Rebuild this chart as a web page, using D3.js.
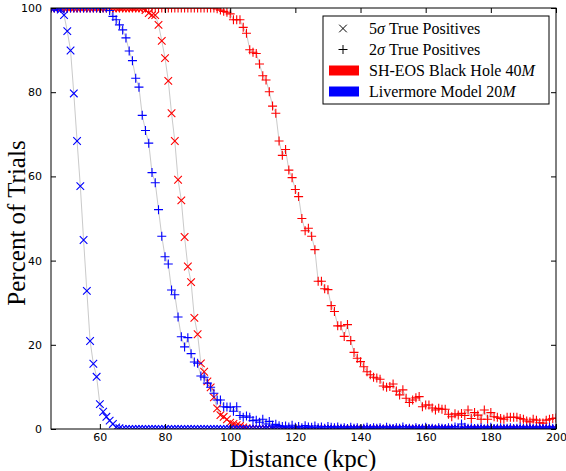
<!DOCTYPE html>
<html>
<head>
<meta charset="utf-8">
<script src="https://cdn.jsdelivr.net/npm/d3@7"></script>
<style>
  body { margin: 0; background: #fff; }
</style>
</head>
<body>
<div id="chart"></div>
<script>
// distances sampled every 1 kpc
const distances = d3.range(45, 201);

// SH-EOS Black Hole 40M
const redFive = [
  100,100,100,100,100,100,100,100,100,100,
  100,100,100,100,100,100,100,100,100,100,
  100,100,100,100,100,100,100,100,100,99.5,
  98.8,98.3,98.3,96.0,92.2,88.1,82.7,75.0,68.4,59.2,
  54.3,45.6,38.6,34.9,26.4,22.5,15.6,13.6,11.3,9.9,
  7.5,4.9,3.3,2.9,2.3,1.5,1.2,0.9,0.7,0.4,
  0.2,0,0,0,0,0,0,0,0,0,
  0,0,0,0,0,0,0,0,0,0,
  0,0,0,0,0,0,0,0,0,0,
  0,0,0,0,0,0,0,0,0,0,
  0,0,0,0,0,0,0,0,0,0,
  0,0,0,0,0,0,0,0,0,0,
  0,0,0,0,0,0,0,0,0,0,
  0,0,0,0,0,0,0,0,0,0,
  0,0,0,0,0,0,0,0,0,0,
  0,0,0,0,0,0
];
const redTwo = [
  100,100,100,100,100,100,100,100,100,100,
  100,100,100,100,100,100,100,100,100,100,
  100,100,100,100,100,100,100,100,100,100,
  100,100,100,100,100,100,100,100,100,100,
  100,100,100,100,100,100,100,100,100,100,
  100,99.8,99.5,99.2,99.0,98.6,97.2,97.2,97.2,95.4,
  94.0,90.1,89.5,89.2,86.7,83.9,82.9,80.1,76.7,75.0,
  68.4,65.0,66.4,61.5,59.7,56.9,55.2,50.0,47.1,47.7,
  45.8,42.6,35.1,35.1,33.3,33.1,29.3,27.9,24.5,24.5,
  22.0,24.8,21.0,18.2,16.8,16.0,14.8,13.6,12.9,12.3,
  12.1,11.8,10.2,9.9,10.1,10.7,9.0,8.1,9.3,7.3,
  6.3,6.9,7.4,7.7,5.3,5.7,5.7,5.0,4.5,4.9,
  4.7,4.7,3.5,2.9,3.6,3.3,3.7,3.2,4.5,2.5,
  3.9,3.3,2.3,4.5,2.3,3.9,2.9,2.8,2.5,2.3,
  2.8,2.8,2.8,2.8,2.5,2.3,1.9,1.7,2.3,2.1,
  1.5,1.4,2.1,2.3,2.5,2.6
];

// Livermore Model 20M
const blueFive = [
  100,100,100,99.6,98.3,94.5,89.9,79.7,68.4,57.7,
  44.9,32.8,20.9,15.5,12.4,5.9,4.1,2.9,2.0,1.2,
  0.4,0.2,0,0,0,0,0,0,0,0,
  0,0,0,0,0,0,0,0,0,0,
  0,0,0,0,0,0,0,0,0,0,
  0,0,0,0,0,0,0,0,0,0,
  0,0,0,0,0,0,0,0,0,0,
  0,0,0,0,0,0,0,0,0,0,
  0,0,0,0,0,0,0,0,0,0,
  0,0,0,0,0,0,0,0,0,0,
  0,0,0,0,0,0,0,0,0,0,
  0,0,0,0,0,0,0,0,0,0,
  0,0,0,0,0,0,0,0,0,0,
  0,0,0,0,0,0,0,0,0,0,
  0,0,0,0,0,0,0,0,0,0,
  0,0,0,0,0,0
];
const blueTwo = [
  100,100,100,100,100,100,100,100,100,100,
  100,100,100,100,100,100,100,100,99.4,98.0,
  97.2,96.0,94.8,92.9,89.8,87.5,83.3,81.2,74.5,70.9,
  67.9,60.9,58.5,52.1,45.8,40.9,39.2,33.0,31.9,26.6,
  21.9,19.5,21.7,17.9,15.9,15.6,12.6,12.3,10.9,9.9,
  8.5,6.9,6.9,5.3,5.2,5.2,4.2,5.3,3.2,2.8,
  3.1,2.8,2.0,2.1,1.6,2.3,1.2,1.8,0.9,1.1,
  0.8,0.6,0.7,0.5,0.9,0.4,0.6,0.3,0.8,0.5,
  0.4,0.7,0.3,0.5,0.2,0.6,0.4,0.3,0.5,0.2,
  0.3,0.1,0.4,0.2,0.3,0,0.2,0.4,0.1,0.3,
  0.2,0.3,0,0.4,0.2,0.1,0.3,0.2,0.5,0.1,
  0.2,0,0.3,0.1,0.2,0.4,0.1,0.2,0,0.3,
  0.2,0.1,0.3,0.2,0.5,0.1,1.2,0.4,0.2,0.3,
  0.1,0.2,0.3,0,0.2,0.4,0.1,0.2,0.3,0.1,
  0.2,0.3,0.1,0.2,0.4,0.1,0.2,0.3,0.1,0.2,
  0.3,0.1,0.2,0.4,0.2,0.1
];

const xTicks = [60, 80, 100, 120, 140, 160, 180, 200];
const yTicks = [0, 20, 40, 60, 80, 100];

const series = [
  { values: redFive, color: "#ff0000", marker: "x" },
  { values: redTwo, color: "#ff0000", marker: "+" },
  { values: blueFive, color: "#0000ff", marker: "x" },
  { values: blueTwo, color: "#0000ff", marker: "+" }
];

const width = 566, height = 471;
const margin = { top: 8, right: 10, bottom: 42, left: 51 };

const svg = d3.select("#chart").append("svg")
    .attr("width", width)
    .attr("height", height)
    .style("display", "block");

const x = d3.scaleLinear()
    .domain([45, 200])
    .range([margin.left, width - margin.right]);

const y = d3.scaleLinear()
    .domain([0, 100])
    .range([height - margin.bottom, margin.top]);

const markerPath = {
  "x": "M-3.8,-3.8L3.8,3.8M-3.8,3.8L3.8,-3.8",
  "+": "M-4.5,0H4.5M0,-4.5V4.5"
};

svg.append("defs").append("clipPath")
    .attr("id", "plotClip")
  .append("rect")
    .attr("x", margin.left)
    .attr("y", margin.top)
    .attr("width", width - margin.right - margin.left)
    .attr("height", height - margin.bottom - margin.top);

const plot = svg.append("g").attr("clip-path", "url(#plotClip)");

const line = d3.line()
    .x((d, i) => x(distances[i]))
    .y(d => y(d));

series.forEach(s => {
  plot.append("path")
      .attr("d", line(s.values))
      .attr("fill", "none")
      .attr("stroke", "#cacaca")
      .attr("stroke-width", 1);

  plot.append("g")
    .selectAll("path")
    .data(s.values)
    .join("path")
      .attr("transform", (d, i) => `translate(${x(distances[i])},${y(d)})`)
      .attr("d", markerPath[s.marker])
      .attr("fill", "none")
      .attr("stroke", s.color)
      .attr("stroke-width", 1.1);
});

// Axes frame (ticks inward on all sides, like classic matplotlib)
const tickLen = 5;
const axisFont = "'DejaVu Sans', sans-serif";

svg.append("g")
    .attr("transform", `translate(0,${y(0)})`)
    .call(d3.axisBottom(x).tickValues(xTicks).tickSizeInner(-tickLen).tickSizeOuter(0).tickPadding(4))
    .call(g => g.select(".domain").remove())
    .call(g => g.selectAll("text").attr("font-size", 11).attr("font-family", axisFont).attr("fill", "#000"));

svg.append("g")
    .attr("transform", `translate(0,${y(100)})`)
    .call(d3.axisTop(x).tickValues(xTicks).tickSizeInner(-tickLen).tickSizeOuter(0).tickFormat(""))
    .call(g => g.select(".domain").remove());

svg.append("g")
    .attr("transform", `translate(${x(45)},0)`)
    .call(d3.axisLeft(y).tickValues(yTicks).tickSizeInner(-tickLen).tickSizeOuter(0).tickPadding(9))
    .call(g => g.select(".domain").remove())
    .call(g => g.selectAll("text").attr("font-size", 11).attr("font-family", axisFont).attr("fill", "#000"));

svg.append("g")
    .attr("transform", `translate(${x(200)},0)`)
    .call(d3.axisRight(y).tickValues(yTicks).tickSizeInner(-tickLen).tickSizeOuter(0).tickFormat(""))
    .call(g => g.select(".domain").remove());

svg.append("rect")
    .attr("x", x(45))
    .attr("y", y(100))
    .attr("width", x(200) - x(45))
    .attr("height", y(0) - y(100))
    .attr("fill", "none")
    .attr("stroke", "#000")
    .attr("stroke-width", 1);

// Axis labels
const serif = "'Liberation Serif', 'Times New Roman', serif";

svg.append("text")
    .attr("x", 303)
    .attr("y", 466.5)
    .attr("text-anchor", "middle")
    .attr("font-family", serif)
    .attr("font-size", 25)
    .text("Distance (kpc)");

svg.append("text")
    .attr("transform", "translate(25,223) rotate(-90)")
    .attr("text-anchor", "middle")
    .attr("font-family", serif)
    .attr("font-size", 25)
    .text("Percent of Trials");

// Legend
const legendItems = [
  { kind: "x", pre: "5", ital: "σ", post: " True Positives" },
  { kind: "+", pre: "2", ital: "σ", post: " True Positives" },
  { kind: "patch", color: "#ff0000", pre: "SH-EOS Black Hole 40", ital: "M", post: "" },
  { kind: "patch", color: "#0000ff", pre: "Livermore Model 20", ital: "M", post: "" }
];

const legend = svg.append("g").attr("transform", "translate(323,16)");

legend.append("rect")
    .attr("width", 226)
    .attr("height", 88)
    .attr("fill", "#fff")
    .attr("stroke", "#000")
    .attr("stroke-width", 1);

const rows = legend.selectAll("g.row")
  .data(legendItems)
  .join("g")
    .attr("class", "row")
    .attr("transform", (d, i) => `translate(0,${12.5 + i * 21})`);

rows.filter(d => d.kind !== "patch").append("path")
    .attr("transform", "translate(20,0)")
    .attr("d", d => markerPath[d.kind])
    .attr("fill", "none")
    .attr("stroke", "#000")
    .attr("stroke-width", 1);

rows.filter(d => d.kind === "patch").append("rect")
    .attr("x", 6)
    .attr("y", -5)
    .attr("width", 30)
    .attr("height", 10)
    .attr("fill", d => d.color);

const labels = rows.append("text")
    .attr("x", 46)
    .attr("y", 5)
    .attr("font-family", serif)
    .attr("font-size", 16);

labels.append("tspan").text(d => d.pre);
labels.append("tspan").attr("font-style", "italic").text(d => d.ital);
labels.append("tspan").text(d => d.post);
</script>
</body>
</html>
